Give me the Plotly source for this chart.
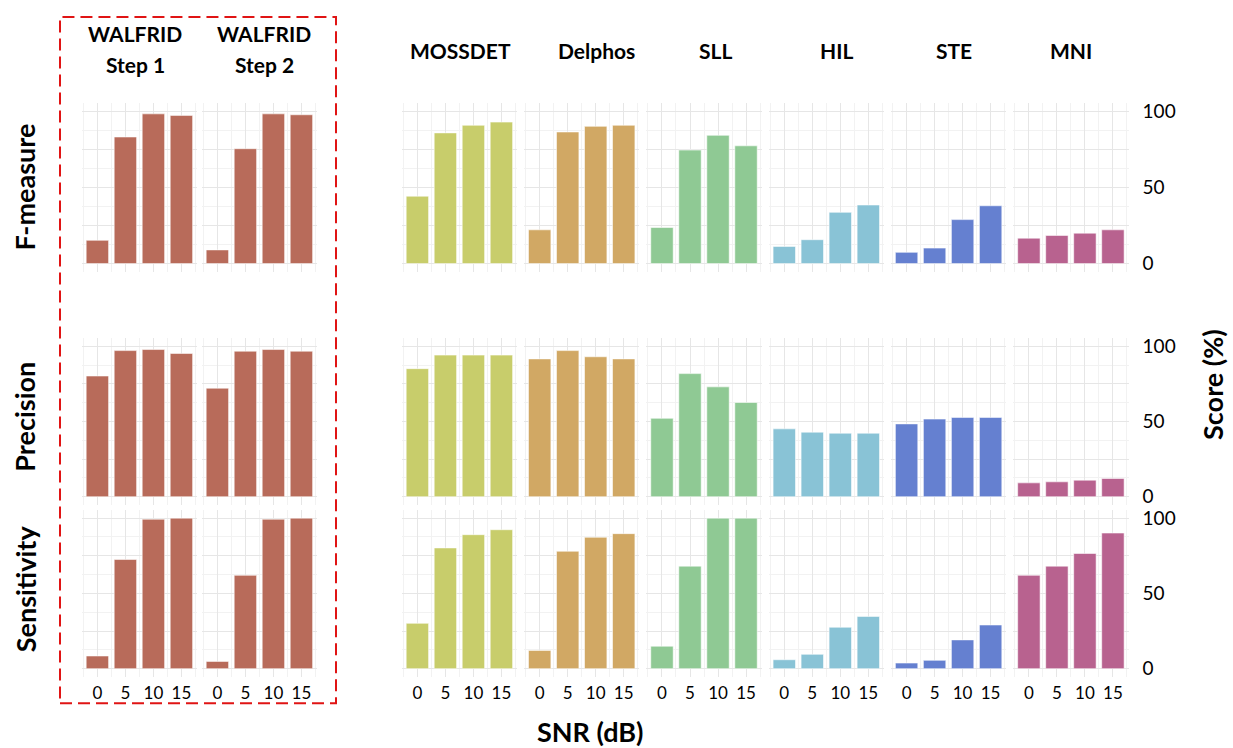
import plotly.graph_objects as go

W, H = 1233, 748

# ---------------- data ----------------
snr = [0, 5, 10, 15]
methods = ["WALFRID Step 1", "WALFRID Step 2", "MOSSDET", "Delphos", "SLL", "HIL", "STE", "MNI"]
method_titles = [["WALFRID", "Step 1"], ["WALFRID", "Step 2"], ["MOSSDET"], ["Delphos"],
                 ["SLL"], ["HIL"], ["STE"], ["MNI"]]
metrics = ["F-measure", "Precision", "Sensitivity"]

fmeasure = [
    [15.3, 83.2, 98.4, 97.4],   # WALFRID Step 1
    [9.0, 75.5, 98.4, 97.8],    # WALFRID Step 2
    [44.3, 85.9, 90.9, 93.0],   # MOSSDET
    [22.2, 86.5, 90.2, 90.9],   # Delphos
    [23.7, 74.6, 84.3, 77.4],   # SLL
    [11.3, 15.7, 33.7, 38.5],   # HIL
    [7.4, 10.2, 28.9, 38.0],    # STE
    [16.7, 18.5, 20.0, 22.2],   # MNI
]
precision = [
    [80.2, 97.1, 97.8, 95.2],
    [72.1, 96.7, 97.8, 96.7],
    [85.1, 94.1, 94.1, 94.1],
    [91.6, 97.1, 93.0, 91.6],
    [52.1, 81.8, 73.0, 62.6],
    [45.1, 42.9, 42.2, 42.2],
    [48.4, 51.6, 52.7, 52.7],
    [9.2, 9.9, 11.0, 12.1],
]
sensitivity = [
    [8.4, 72.5, 99.3, 100.0],
    [4.8, 62.0, 99.3, 100.0],
    [30.1, 80.2, 89.0, 92.3],
    [12.1, 78.0, 87.3, 89.7],
    [14.9, 68.1, 100.0, 100.0],
    [5.9, 9.5, 27.5, 34.7],
    [3.7, 5.5, 19.1, 29.0],
    [62.0, 68.1, 76.5, 90.1],
]
metric_values = [fmeasure, precision, sensitivity]

colors = ["#b86b5a", "#b86b5a", "#c8cd6b", "#d1a864", "#8fc994", "#89c3d6", "#6580d0", "#b8628f"]

y_tickvals = [0, 25, 50, 75, 100]
y_ticktext = ["0", "", "50", "", "100"]

# ---------------- layout geometry (pixels) ----------------
col_left = [81.7, 201.7, 401.7, 524.0, 646.3, 768.6, 890.9, 1013.2]
col_w = 115.4
row_y0 = [261.7, 496.7, 670.0]     # pixel of value 0
row_y100 = [108.3, 345.0, 518.3]   # pixel of value 100
pad = 5.4
x_range = [-2.8, 17.8]

FONT = "Lato"

def px_x(p):
    return p / W

def px_y(p):
    return 1 - p / H

fig = go.Figure()
layout = dict(
    width=W, height=H, autosize=False,
    margin=dict(l=0, r=0, t=0, b=0),
    paper_bgcolor="white", plot_bgcolor="white",
    showlegend=False, bargap=0.2,
    font=dict(family=FONT, color="black"),
)

for r in range(3):
    s = (row_y0[r] - row_y100[r]) / 100.0
    top = row_y100[r] - pad * s
    bot = row_y0[r] + pad * s
    for c in range(8):
        k = r * 8 + c + 1
        xa = "x" if k == 1 else f"x{k}"
        ya = "y" if k == 1 else f"y{k}"
        fig.add_trace(go.Bar(
            x=snr, y=metric_values[r][c], xaxis=xa, yaxis=ya,
            marker=dict(color=colors[c], line=dict(color="rgba(255,255,255,0.55)", width=1)),
            name=methods[c], hovertemplate=f"{methods[c]} – {metrics[r]}<br>SNR %{{x}} dB: %{{y}}%<extra></extra>",
        ))
        xname = "xaxis" if k == 1 else f"xaxis{k}"
        yname = "yaxis" if k == 1 else f"yaxis{k}"
        layout[xname] = dict(
            domain=[px_x(col_left[c]), px_x(col_left[c] + col_w)],
            anchor=ya, range=x_range, fixedrange=True,
            tickmode="array", tickvals=snr, ticktext=[str(v) for v in snr],
            showticklabels=(r == 2), ticks="", showline=False, zeroline=False,
            showgrid=True, gridcolor="#e6e6e6", gridwidth=1,
            minor=dict(tick0=2.5, dtick=5, showgrid=True, gridcolor="#f2f2f2", gridwidth=1),
            tickfont=dict(family=FONT, size=17, color="black"),
            ticklabelstandoff=4,
        )
        layout[yname] = dict(
            domain=[px_y(bot), px_y(top)],
            anchor=xa, range=[-pad, 100 + pad], fixedrange=True,
            tickmode="array", tickvals=y_tickvals, ticktext=y_ticktext,
            showticklabels=(c == 7), side="right", ticks="",
            showline=False, zeroline=False,
            showgrid=True, gridcolor="#e6e6e6", gridwidth=1,
            minor=dict(tick0=12.5, dtick=25, showgrid=True, gridcolor="#f2f2f2", gridwidth=1),
            tickfont=dict(family=FONT, size=19, color="black"),
            ticklabelstandoff=13,
        )

fig.update_layout(**layout)

annotations = []
title_x = [135, 264, 460, 596, 715, 837, 954, 1071]
for c in range(8):
    lines = method_titles[c]
    if len(lines) == 2:
        ys = [30, 61]
    else:
        ys = [47]
    for line, yy in zip(lines, ys):
        annotations.append(dict(
            text=f"<b>{line}</b>", x=px_x(title_x[c]), y=px_y(yy),
            xref="paper", yref="paper", showarrow=False,
            xanchor="center", yanchor="middle",
            font=dict(family=FONT, size=21, color="black"),
        ))

row_label_y = [185, 416, 590]
for r in range(3):
    annotations.append(dict(
        text=f"<b>{metrics[r]}</b>", x=px_x(25), y=px_y(row_label_y[r]),
        xref="paper", yref="paper", showarrow=False, textangle=-90,
        xanchor="center", yanchor="middle",
        font=dict(family=FONT, size=27, color="black"),
    ))

annotations.append(dict(
    text="<b>SNR (dB)</b>", x=px_x(590), y=px_y(733),
    xref="paper", yref="paper", showarrow=False,
    xanchor="center", yanchor="middle",
    font=dict(family=FONT, size=27, color="black"),
))
annotations.append(dict(
    text="<b>Score (%)</b>", x=px_x(1213), y=px_y(384),
    xref="paper", yref="paper", showarrow=False, textangle=-90,
    xanchor="center", yanchor="middle",
    font=dict(family=FONT, size=27, color="black"),
))

fig.update_layout(annotations=annotations)

fig.add_shape(
    type="rect", xref="paper", yref="paper",
    x0=px_x(60), x1=px_x(336), y0=px_y(705), y1=px_y(13),
    line=dict(color="#e01414", width=2, dash="12px,6px"),
    fillcolor="rgba(0,0,0,0)", layer="above",
)

fig.write_html(
    "out.html",
    config={"displayModeBar": False},
    post_script="document.body.style.margin='0';document.body.style.overflow='hidden';",
)
